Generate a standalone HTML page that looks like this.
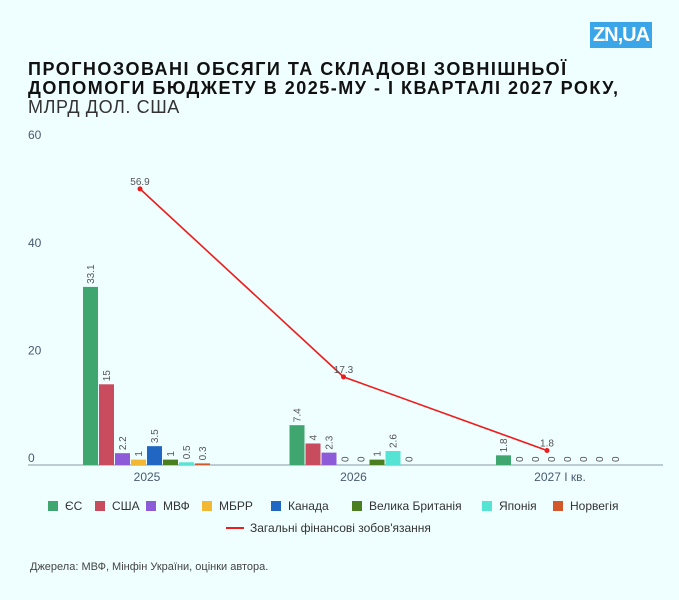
<!DOCTYPE html>
<html><head><meta charset="utf-8"><style>
body{margin:0;background:#effefe;font-family:"Liberation Sans","Noto Sans CJK SC",sans-serif;}
#wrap{position:relative;width:679px;height:600px;background:#effefe;overflow:hidden;}
.title{position:absolute;left:28px;top:60px;font-size:18px;font-weight:bold;color:#111;line-height:19px;letter-spacing:1.5px;white-space:nowrap;}
.sub{position:absolute;left:28px;top:97px;font-size:18px;line-height:20px;color:#333;letter-spacing:0.6px;}
.logo{position:absolute;left:590px;top:22px;width:62px;height:26px;background:#3aa6e8;color:#fff;font-weight:bold;font-size:20px;line-height:26px;text-align:center;letter-spacing:-1px;}
.src{position:absolute;left:30px;top:561px;font-size:11px;color:#444;}
</style></head><body>
<div id="wrap">
<div class="logo">ZN,UA</div>
<div class="title">ПРОГНОЗОВАНІ ОБСЯГИ ТА СКЛАДОВІ ЗОВНІШНЬОЇ<br>ДОПОМОГИ БЮДЖЕТУ В 2025-МУ - І КВАРТАЛІ 2027 РОКУ,</div>
<div class="sub">МЛРД ДОЛ. США</div>
<svg id="chart" width="679" height="600" style="position:absolute;left:0;top:0"></svg>
<div class="src">Джерела: МВФ, Мінфін України, оцінки автора.</div>
</div>
<script>
const categories=["2025","2026","2027 І кв."];
const seriesNames=["ЄС","США","МВФ","МБРР","Канада","Велика Британія","Японія","Норвегія"];
const seriesColors=["#3fa66f","#c94b5e","#8e5bd8","#f2b833","#1f67c2","#4a7f1f","#55e3d3","#d2572a"];
const eu=[33.1,7.4,1.8];
const usa=[15,4,0];
const imf=[2.2,2.3,0];
const ibrd=[1,0,0];
const canada=[3.5,0,0];
const uk=[1,1,0];
const japan=[0.5,2.6,0];
const norway=[0.3,0,0];
const total=[56.9,17.3,1.8];
const yTicks=[0,20,40,60];
const seriesValues=[eu,usa,imf,ibrd,canada,uk,japan,norway];
const NS="http://www.w3.org/2000/svg";
const svg=document.getElementById('chart');
function mk(t,a){const e=document.createElementNS(NS,t);for(const k in a)e.setAttribute(k,a[k]);svg.appendChild(e);return e;}
const y0=465,pxPer=5.38;
function yScale(v){return y0-v*pxPer;}
function yLine(v){return 459-v*4.747;}
function xCenter(i){return 147+206.5*i;}
function xLine(i){return 140+203.5*i;}
yTicks.forEach(t=>{const e=mk('text',{x:28,y:yScale(t)-3,'font-size':12,fill:'#4a5a72'});e.textContent=t;

});
const ax=mk('line',{x1:28,x2:663,y1:y0,y2:y0,stroke:'#8a9aa8','stroke-width':1});


categories.forEach((c,i)=>{const e=mk('text',{x:xCenter(i),y:y0+16,'font-size':12,fill:'#4a5a72','text-anchor':'middle'});e.textContent=c;

});
seriesValues.forEach((vals,s)=>{vals.forEach((v,i)=>{
 const x=xCenter(i)-64+s*16;
 const h=v*pxPer;
 if(v>0){const r=mk('rect',{x:x,y:y0-h,width:15,height:h,fill:seriesColors[s]});
 
 }
 const tx=x+11,ty=y0-h-3;
 const t=mk('text',{x:tx,y:ty,'font-size':10,fill:'#555',transform:'rotate(-90 '+tx+' '+ty+')'});t.textContent=v;
 
 
});});
const pts=total.map((v,i)=>xLine(i)+','+yLine(v)).join(' ');
const pl=mk('polyline',{points:pts,fill:'none',stroke:'#ee1c1c','stroke-width':1.6});


total.forEach((v,i)=>{const c=mk('circle',{cx:xLine(i),cy:yLine(v),r:2.5,fill:'#ee1c1c'});


const t=mk('text',{x:xLine(i),y:yLine(v)-4,'font-size':10,fill:'#555','text-anchor':'middle'});t.textContent=v;

});
const lx=[48,95,146,202,271,352,482,553];
seriesNames.forEach((n,s)=>{const r=mk('rect',{x:lx[s],y:501,width:10,height:10,fill:seriesColors[s]});


const t=mk('text',{x:lx[s]+17,y:510,'font-size':12,fill:'#333'});t.textContent=n;

});
const ll=mk('line',{x1:226,x2:244,y1:528,y2:528,stroke:'#ee1c1c','stroke-width':2});


const lt=mk('text',{x:250,y:532,'font-size':12,fill:'#333'});lt.textContent="Загальні фінансові зобов'язання";


</script>
</body></html>
